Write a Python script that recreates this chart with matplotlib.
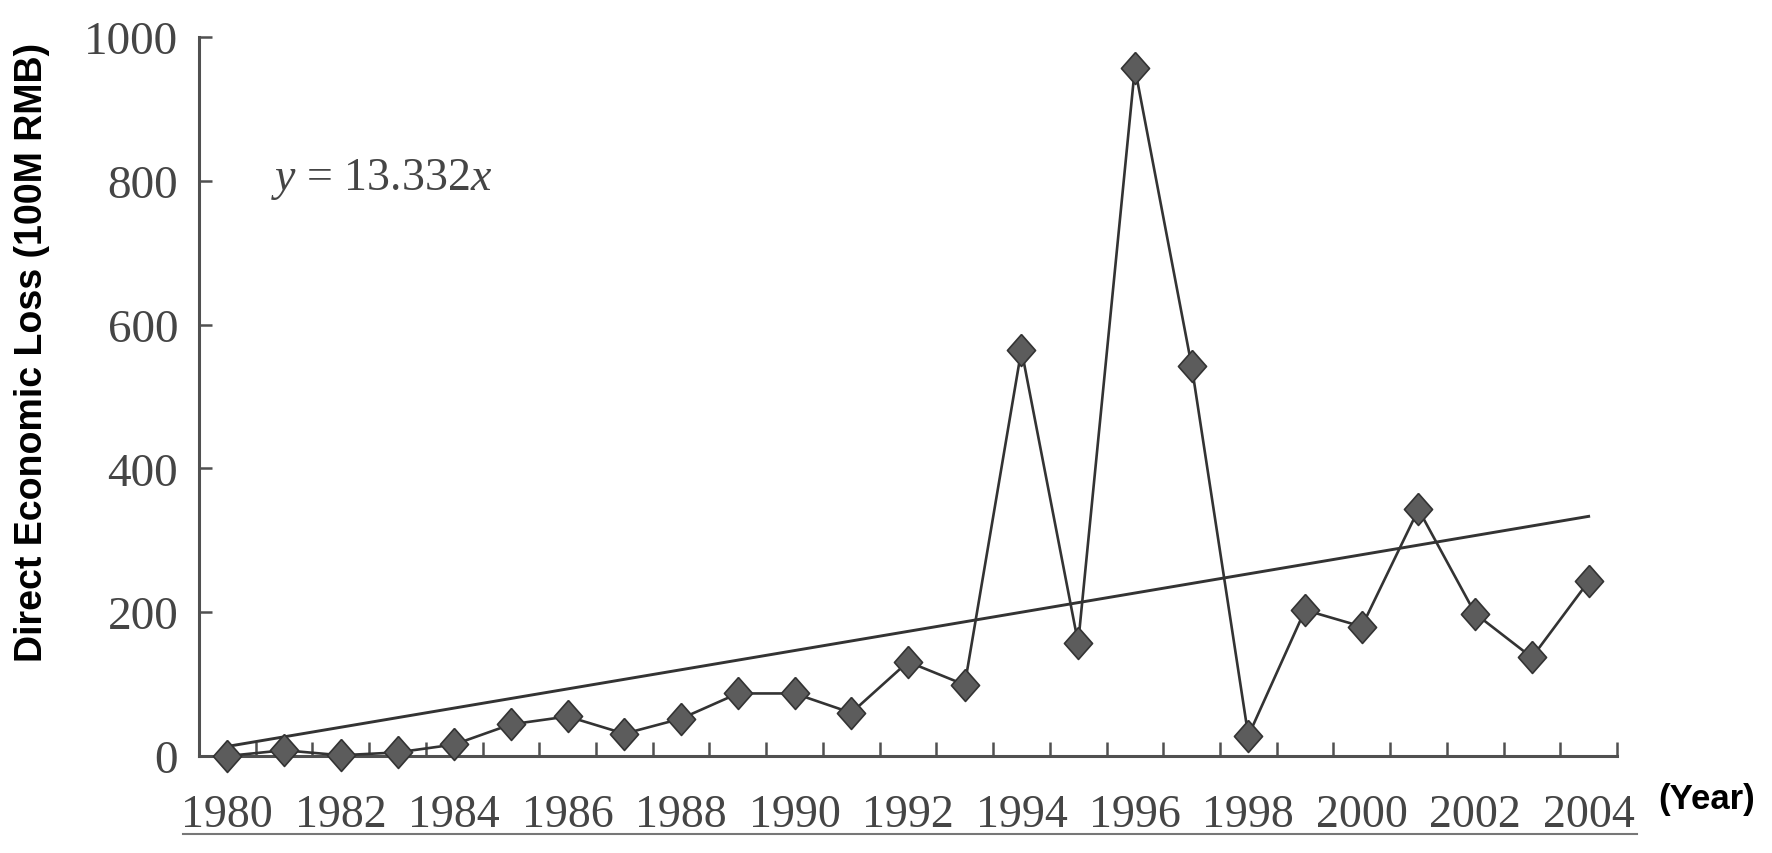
import matplotlib
matplotlib.use("Agg")
import matplotlib.pyplot as plt
from matplotlib.lines import Line2D

# ---- data ----
years = list(range(1980, 2005))
loss = [0, 8, 1, 5, 16, 44, 55, 31, 52, 87, 87, 60, 131, 99, 565,
        157, 957, 543, 28, 203, 180, 343, 198, 137, 243]
trend_years = [1980, 2004]
trend_values = [13.332, 13.332 * 25]
year_labels = [str(y) for y in range(1980, 2005, 2)]
y_ticks = [0, 200, 400, 600, 800, 1000]

plt.rcParams['mathtext.fontset'] = 'custom'
plt.rcParams['mathtext.rm'] = 'Liberation Serif'
plt.rcParams['mathtext.it'] = 'Liberation Serif:italic'

W, H = 1772, 854
fig = plt.figure(figsize=(W / 100, H / 100), dpi=100)
ax = fig.add_axes([199 / W, 97 / H, (1617 - 199) / W, (757 - 38) / H])

axis_col = '#505050'
text_col = '#454545'
line_col = '#333333'

diamond = [(0, 1), (0.88, 0), (0, -1), (-0.88, 0), (0, 1)]

ax.plot(trend_years, trend_values, color=line_col, lw=2.1, zorder=2)
ax.plot(years, loss, color=line_col, lw=1.9, marker=diamond, markersize=23,
        markerfacecolor='#5c5c5c', markeredgecolor='#333333', markeredgewidth=1.2,
        clip_on=False, zorder=3)

ax.set_xlim(1979.5, 2004.5)
ax.set_ylim(0, 1000)

for s in ['top', 'right']:
    ax.spines[s].set_visible(False)
for s in ['left', 'bottom']:
    ax.spines[s].set_color(axis_col)
    ax.spines[s].set_linewidth(2.2)

ax.set_xticks(list(range(1980, 2005, 2)))
ax.set_xticklabels(year_labels)
ax.set_xticks([1979.5 + k for k in range(26)], minor=True)
ax.tick_params(axis='x', which='major', length=0, pad=27, labelsize=33,
               labelcolor=text_col)
ax.tick_params(axis='x', which='minor', direction='in', length=10, width=1.8,
               color=axis_col)

ax.set_yticks(y_ticks)
ax.set_yticklabels([str(v) for v in y_ticks])
ax.tick_params(axis='y', direction='in', length=9, width=1.8, color=axis_col,
               pad=15, labelsize=34, labelcolor=text_col)

for lab in ax.get_xticklabels() + ax.get_yticklabels():
    lab.set_fontfamily('Liberation Serif')

fig.text(32 / W, (H - 352) / H, 'Direct Economic Loss (100M RMB)', rotation=90,
         ha='center', va='center', fontsize=27, fontweight='bold',
         family='Liberation Sans', color='black')
fig.text(1658 / W, (H - 800) / H, '(Year)', ha='left', va='center',
         fontsize=25, fontweight='bold', family='Liberation Sans', color='black')

fig.text(271 / W, (H - 190) / H, r'$y$ = 13.332$x$', ha='left', va='baseline',
         fontsize=33, family='Liberation Serif', color=text_col)

# underline below year labels (as in the scanned source)
fig.add_artist(Line2D([183 / W, 1637 / W], [(H - 835) / H, (H - 835) / H],
                      color='#777777', lw=1.5, transform=fig.transFigure))

fig.savefig('out.png', dpi=100, facecolor='white')
